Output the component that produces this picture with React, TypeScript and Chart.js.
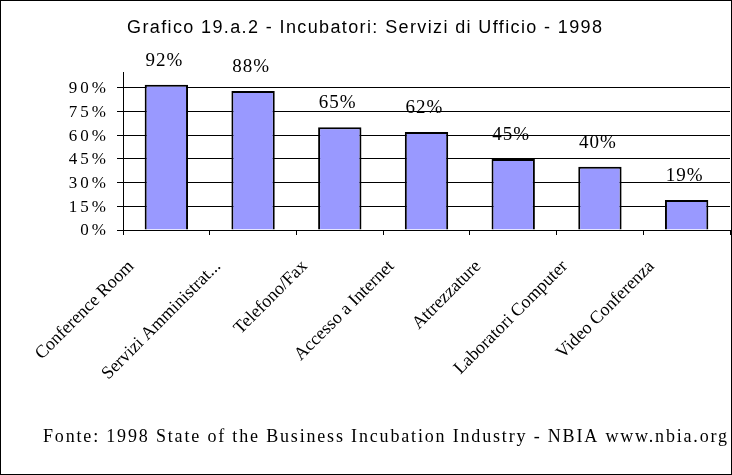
import { useEffect, useRef } from 'react';
import { Chart, registerables } from 'chart.js';

Chart.register(...registerables);

const categories = [
  'Conference Room',
  'Servizi Amministrat...',
  'Telefono/Fax',
  'Accesso a Internet',
  'Attrezzature',
  'Laboratori Computer',
  'Video Conferenza',
];
const shares = [0.92, 0.88, 0.65, 0.62, 0.45, 0.4, 0.19];
const yTickValues = [0, 0.15, 0.3, 0.45, 0.6, 0.75, 0.9];
const chartTitle = 'Grafico 19.a.2 - Incubatori: Servizi di Ufficio - 1998';
const sourceNote = 'Fonte: 1998 State of the Business Incubation Industry - NBIA www.nbia.org';

const SERIF = '"Liberation Serif", "Times New Roman", serif';
const SANS = '"Liberation Sans", Arial, sans-serif';

const pct = (v: number) => `${Math.round(v * 100)}%`;

// Draws text so that it spans a given width, spreading the letters evenly.
function drawSpread(ctx: CanvasRenderingContext2D, text: string, left: number, right: number, y: number) {
  ctx.letterSpacing = '0px';
  const natural = ctx.measureText(text).width;
  const spacing = (right - left - natural) / Math.max(1, text.length - 1);
  ctx.letterSpacing = `${spacing}px`;
  ctx.textAlign = 'left';
  ctx.fillText(text, left, y);
  ctx.letterSpacing = '0px';
}

const decorations = {
  id: 'decorations',
  afterDraw(chart: any) {
    const ctx: CanvasRenderingContext2D = chart.ctx;
    ctx.save();
    ctx.fillStyle = '#000';
    ctx.textBaseline = 'middle';

    // value axis labels
    const yScale = chart.scales.y;
    ctx.font = `17px ${SERIF}`;
    const ySpacing = 3;
    ctx.letterSpacing = `${ySpacing}px`;
    ctx.textAlign = 'right';
    yScale.ticks.forEach((t: any) => {
      ctx.fillText(pct(t.value), yScale.right - 17 + ySpacing, yScale.getPixelForValue(t.value) + 1);
    });

    // value labels above bars
    ctx.font = `19px ${SERIF}`;
    ctx.letterSpacing = '1px';
    ctx.textAlign = 'center';
    chart.getDatasetMeta(0).data.forEach((bar: any, i: number) => {
      ctx.fillText(pct(shares[i]), bar.x - 2, bar.y - 24);
    });

    // title
    ctx.font = `18px ${SANS}`;
    drawSpread(ctx, chartTitle, 127, 602, 28);

    // source note
    ctx.font = `18px ${SERIF}`;
    ctx.textBaseline = 'alphabetic';
    drawSpread(ctx, sourceNote, 43, 727, 442);

    // outer frame
    ctx.strokeStyle = '#000';
    ctx.lineWidth = 1;
    ctx.strokeRect(0.5, 0.5, chart.width - 1, chart.height - 1);
    ctx.restore();
  },
};

export default function App() {
  const canvasRef = useRef<HTMLCanvasElement | null>(null);

  useEffect(() => {
    document.body.style.margin = '0';
    const canvas = canvasRef.current;
    if (!canvas) return;
    const chart = new Chart(canvas, {
      type: 'bar',
      data: {
        labels: categories,
        datasets: [
          {
            data: shares,
            backgroundColor: '#9999FF',
            borderColor: '#000',
            borderWidth: 2,
            barPercentage: 0.5,
            categoryPercentage: 1,
          },
        ],
      },
      options: {
        animation: false,
        responsive: false,
        maintainAspectRatio: false,
        layout: { padding: { top: 72, right: 2, left: 0, bottom: 0 } },
        plugins: {
          legend: { display: false },
          tooltip: { enabled: false },
          title: { display: false },
        },
        scales: {
          x: {
            offset: true,
            grid: {
              display: true,
              drawOnChartArea: false,
              drawTicks: true,
              tickLength: 5,
              color: '#000',
              offset: true,
            },
            border: { display: true, color: '#000', width: 1 },
            ticks: {
              autoSkip: false,
              maxRotation: 45,
              minRotation: 45,
              labelOffset: -35,
              padding: 21,
              color: '#000',
              font: { family: SERIF, size: 18 },
            },
            afterFit: (s: any) => {
              s.height = 245;
            },
          },
          y: {
            min: 0,
            max: 1,
            ticks: { display: false, stepSize: 0.15 },
            afterBuildTicks: (s: any) => {
              s.ticks = yTickValues.map((value) => ({ value }));
            },
            grid: { color: '#000', tickLength: 6, drawTicks: true },
            border: { display: true, color: '#000', width: 1 },
            afterFit: (s: any) => {
              s.width = 123;
            },
          },
        },
      },
      plugins: [decorations],
    });
    return () => chart.destroy();
  }, []);

  return <canvas ref={canvasRef} width={732} height={475} style={{ display: 'block' }} />;
}
